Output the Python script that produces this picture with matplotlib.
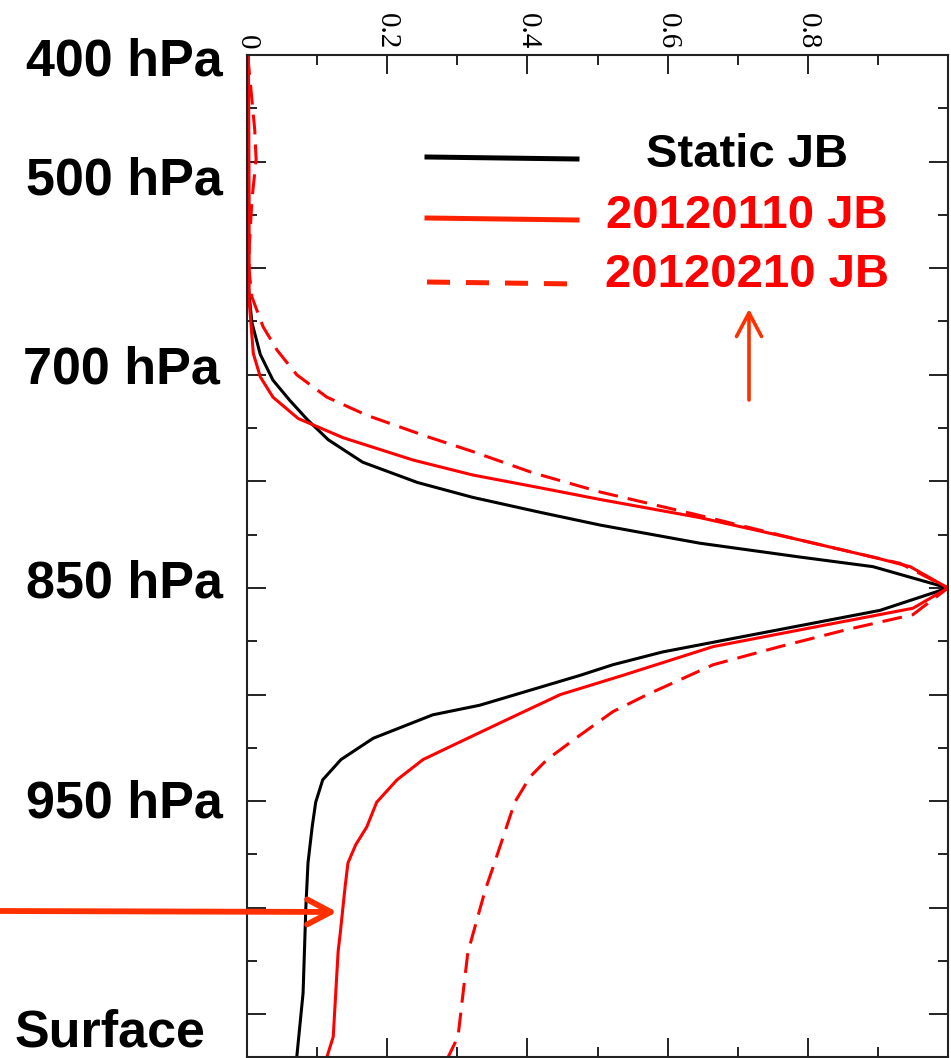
import numpy as np
import matplotlib
matplotlib.use("Agg")
import matplotlib.pyplot as plt
from matplotlib import transforms
from matplotlib.ticker import MultipleLocator, FixedLocator

W, H = 951, 1058

# vertical coordinate: model level index (0 = 400 hPa at top, 5 = 850 hPa peak)
static_lev = [0.0, 2.18, 2.51, 2.81, 3.05, 3.24, 3.42, 3.61, 3.82, 4.01, 4.15, 4.29,
              4.41, 4.58, 4.71, 4.80, 5.0, 5.21, 5.39, 5.60, 5.72, 5.82, 6.10, 6.19,
              6.41, 6.61, 6.80, 7.01, 7.24, 7.58, 7.99, 8.80, 9.40]
static_val = [0.001, 0.002, 0.007, 0.019, 0.037, 0.061, 0.086, 0.116, 0.165, 0.243, 0.322, 0.418,
              0.504, 0.646, 0.789, 0.893, 1.0, 0.903, 0.760, 0.593, 0.522, 0.475, 0.332, 0.265,
              0.180, 0.134, 0.108, 0.098, 0.093, 0.087, 0.084, 0.080, 0.071]

jan_lev = [0.0, 1.36, 2.30, 2.80, 3.02, 3.21, 3.41, 3.59, 3.80, 3.94, 4.06, 4.17,
           4.34, 4.55, 4.72, 4.80, 5.0, 5.19, 5.37, 5.55, 5.82, 6.00, 6.21, 6.40,
           6.61, 6.80, 7.01, 7.24, 7.41, 7.58, 7.80, 8.24, 8.41, 9.21, 9.40]
jan_val = [0.002, 0.003, 0.003, 0.009, 0.019, 0.037, 0.073, 0.137, 0.237, 0.322, 0.418, 0.504,
           0.646, 0.789, 0.899, 0.946, 1.0, 0.950, 0.807, 0.665, 0.536, 0.447, 0.379, 0.318,
           0.251, 0.214, 0.185, 0.171, 0.155, 0.144, 0.140, 0.133, 0.130, 0.123, 0.114]

feb_lev = [0.0, 0.42, 0.70, 0.98, 1.36, 1.83, 2.02, 2.27, 2.55, 2.77, 3.00, 3.21,
           3.38, 3.58, 3.72, 3.92, 4.10, 4.32, 4.55, 4.77, 5.0, 5.25, 5.39, 5.55,
           5.72, 6.00, 6.16, 6.40, 6.61, 6.77, 7.01, 7.62, 7.83, 8.42, 9.21, 9.40]
feb_val = [0.001, 0.007, 0.011, 0.013, 0.007, 0.003, 0.003, 0.007, 0.023, 0.043, 0.071, 0.114,
           0.171, 0.257, 0.322, 0.408, 0.504, 0.646, 0.789, 0.932, 1.0, 0.950, 0.856, 0.760,
           0.665, 0.571, 0.522, 0.471, 0.428, 0.404, 0.382, 0.351, 0.340, 0.315, 0.301, 0.287]

level_labels = ["400 hPa", "500 hPa", "700 hPa", "850 hPa", "950 hPa", "Surface"]
level_label_pos = [0.19, 1.31, 3.08, 5.09, 7.15, 9.30]
level_label_right = [223, 223, 220, 223, 223, 205]

x_ticks = [0, 0.2, 0.4, 0.6, 0.8]
x_tick_labels = ["0", "0.2", "0.4", "0.6", "0.8"]

legend_names = ["Static JB", "20120110 JB", "20120210 JB"]
legend_colors = ["black", "#ff0000", "#ff0000"]

RED = "#ff0000"
ARROW = "#ff3000"

fig = plt.figure(figsize=(W / 100, H / 100), dpi=100)
ax = fig.add_axes([247 / W, 1 / H, (948 - 247) / W, (1057 - 55) / H])

lw = 2.2
ax.plot(static_val, static_lev, color="black", lw=lw)
ax.plot(jan_val, jan_lev, color=RED, lw=lw)
ax.plot(feb_val, feb_lev, color=RED, lw=lw, dashes=(6.5, 3.3))

ax.set_xlim(0, 1.0)
ax.set_ylim(9.4, 0)

ax.xaxis.set_minor_locator(MultipleLocator(0.1))
ax.yaxis.set_major_locator(MultipleLocator(1))
ax.yaxis.set_minor_locator(FixedLocator(np.arange(0.5, 9.4, 1.0)))

ax.tick_params(which="both", direction="in", top=True, bottom=True, left=True, right=True,
               labelbottom=False, labeltop=True, labelleft=False, labelright=False,
               width=1.4, color="#222222")
ax.tick_params(which="major", length=14)
ax.tick_params(which="minor", length=7)
ax.set_xticks(x_ticks + [1.0])
ax.set_xticklabels(x_tick_labels + [""], rotation=-90, fontsize=21,
                   family="Liberation Serif")
ax.tick_params(axis="x", pad=4)
for s in ax.spines.values():
    s.set_linewidth(1.5)
    s.set_color("#222222")

# level labels on the left
trans = transforms.blended_transform_factory(fig.transFigure, ax.transData)
for lab, pos, right in zip(level_labels, level_label_pos, level_label_right):
    ax.text(right / W, pos, lab, transform=trans, ha="right", va="baseline",
            fontsize=37.5, fontweight="bold", family="Liberation Sans", clip_on=False)

# legend drawn by hand
leg_y = [157, 218, 282]
leg_base = [167, 228, 287]
leg_styles = [dict(color="black"), dict(color="#ff2200"), dict(color="#ff2200", dashes=(4.6, 3.2))]
for name, c, ly, lb, st in zip(legend_names, legend_colors, leg_y, leg_base, leg_styles):
    fig.add_artist(plt.Line2D([427 / W, 577 / W], [1 - ly / H, 1 - (ly + 2) / H],
                              transform=fig.transFigure, lw=3.6, **st))
    fig.text(747 / W, 1 - lb / H, name, ha="center", va="baseline", color=c,
             fontsize=34, fontweight="bold", family="Liberation Sans")

# arrows
fig.add_artist(matplotlib.patches.FancyArrowPatch(
    (749 / W, 1 - 400 / H), (749 / W, 1 - 309 / H), transform=fig.transFigure,
    arrowstyle="->,head_length=17,head_width=9", color=ARROW, lw=2.6,
    capstyle="round", joinstyle="round", shrinkA=0, shrinkB=0))
fig.add_artist(matplotlib.patches.FancyArrowPatch(
    (0, 1 - 911 / H), (337 / W, 1 - 912 / H), transform=fig.transFigure,
    arrowstyle="->,head_length=17,head_width=9", color=ARROW, lw=4.2,
    capstyle="round", joinstyle="round", shrinkA=0, shrinkB=0))

fig.savefig("out.png", dpi=100)
